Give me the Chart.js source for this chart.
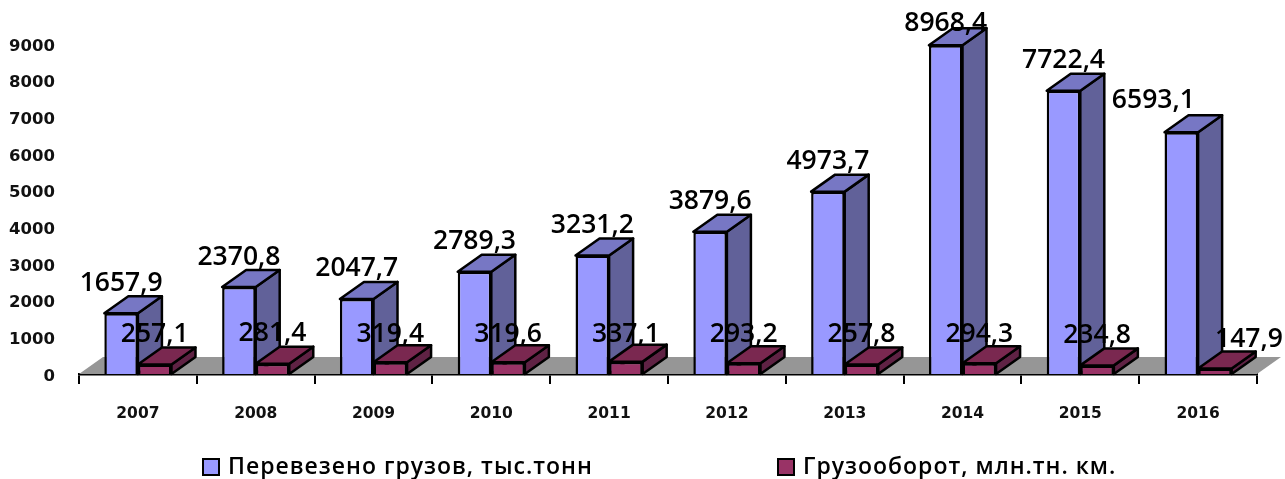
<!DOCTYPE html>
<html>
<head>
<meta charset="utf-8">
<script src="https://cdn.jsdelivr.net/npm/chart.js@4"></script>
<style>
  html, body { margin: 0; background: #fff; }
  #wrap { position: relative; width: 1285px; height: 479px; overflow: hidden; }
  .key { position: absolute; top: 451px; font: 600 23px "Open Sans", sans-serif; letter-spacing: 1px; color: #000; line-height: 28px; white-space: nowrap; }
  .key i { position: absolute; left: -26px; top: 7px; width: 14px; height: 14px; border: 2.5px solid #000; }
</style>
</head>
<body>
<div id="wrap">
  <canvas id="chartFreight" width="1285" height="479"></canvas>
  <div class="key" id="key0" style="left:228px"><i></i></div>
  <div class="key" id="key1" style="left:803px"><i></i></div>
</div>
<script>
const years   = ["2007","2008","2009","2010","2011","2012","2013","2014","2015","2016"];
const cargo   = [1657.9,2370.8,2047.7,2789.3,3231.2,3879.6,4973.7,8968.4,7722.4,6593.1];
const turnover = [257.1,281.4,319.4,319.6,337.1,293.2,257.8,294.3,234.8,147.9];
const seriesNames = ["Перевезено грузов, тыс.тонн", "Грузооборот, млн.тн. км."];

// Colours
const BLUE   = { front: "#9999ff", side: "#616199", top: "#7777c4" };
const MAROON = { front: "#993366", side: "#5f2244", top: "#7a2850" };
const FLOOR  = "#969696";

// 3D look, px
const DX = 24, DY = 17;
const EDGE = 2.5;
const LABEL_LIFT = 30;
// labels moved by hand in the original
const cargoNudge = { 7: [0, 8], 9: [-28, -2] };
const turnoverNudge = { 2: [0, 2], 3: [0, 2], 4: [0, 3], 5: [0, 1], 7: [0, 1], 9: [34, 1] };

function poly(ctx, pts, fill) {
  ctx.beginPath();
  pts.forEach((p, i) => i ? ctx.lineTo(p[0], p[1]) : ctx.moveTo(p[0], p[1]));
  ctx.closePath();
  ctx.fillStyle = fill;
  ctx.fill();
  ctx.stroke();
}

function drawDepth(ctx, meta, tone) {
  ctx.save();
  ctx.strokeStyle = "#000";
  ctx.lineWidth = EDGE;
  ctx.lineJoin = "round";
  meta.data.forEach(bar => {
    const l = bar.x - bar.width / 2, r = bar.x + bar.width / 2;
    poly(ctx, [[r, bar.y], [r + DX, bar.y - DY], [r + DX, bar.base - DY], [r, bar.base]], tone.side);
    poly(ctx, [[l, bar.y], [l + DX, bar.y - DY], [r + DX, bar.y - DY], [r, bar.y]], tone.top);
  });
  ctx.restore();
}

const depthPlugin = {
  id: "depth",
  beforeDatasetsDraw(chart) {
    const { ctx, chartArea: a } = chart;
    const y0 = chart.scales.y.getPixelForValue(0);
    ctx.save();
    ctx.fillStyle = FLOOR;
    ctx.beginPath();
    ctx.moveTo(a.left, y0);
    ctx.lineTo(a.right, y0);
    ctx.lineTo(a.right + DX, y0 - DY);
    ctx.lineTo(a.left + DX, y0 - DY);
    ctx.closePath();
    ctx.fill();
    ctx.restore();
  },
  // chart.js paints dataset 0 last; the blue columns have to go under the maroon ones
  beforeDatasetDraw(chart, args) {
    if (args.index === 0) return false;
    const blue = chart.getDatasetMeta(0);
    drawDepth(chart.ctx, blue, BLUE);
    blue.controller.draw();
    drawDepth(chart.ctx, args.meta, MAROON);
  },
  afterDatasetsDraw(chart) {
    const { ctx } = chart;
    ctx.save();
    ctx.font = '600 26.5px "Open Sans", sans-serif';
    ctx.fillStyle = "#000";
    ctx.textAlign = "center";
    ctx.textBaseline = "middle";
    [[0, cargo, cargoNudge], [1, turnover, turnoverNudge]].forEach(([i, values, nudge]) => {
      chart.getDatasetMeta(i).data.forEach((bar, j) => {
        const n = nudge[j] || [0, 0];
        ctx.fillText(values[j].toFixed(1).replace(".", ","), bar.x + n[0], bar.y - LABEL_LIFT + n[1]);
      });
    });
    ctx.restore();
  }
};

new Chart(document.getElementById("chartFreight"), {
  type: "bar",
  data: {
    labels: years,
    datasets: [
      { label: seriesNames[0], data: cargo, backgroundColor: BLUE.front, borderColor: "#000", borderWidth: EDGE },
      { label: seriesNames[1], data: turnover, backgroundColor: MAROON.front, borderColor: "#000", borderWidth: EDGE },
    ]
  },
  options: {
    responsive: false,
    animation: false,
    layout: { padding: { left: 0, right: 28, top: 44, bottom: 0 } },
    plugins: { legend: { display: false }, tooltip: { enabled: false } },
    datasets: { bar: { categoryPercentage: 0.57, barPercentage: 1 } },
    scales: {
      x: {
        afterFit: s => { s.height = 105; },
        grid: { drawOnChartArea: false, color: "#000", lineWidth: 2, tickLength: 10 },
        border: { color: "#000", width: 2.5 },
        ticks: { padding: 21, color: "#111", maxRotation: 0, font: { family: "DejaVu Sans", size: 15.5, weight: "bold" } }
      },
      y: {
        min: 0, max: 9000,
        afterFit: s => { s.width = 79; },
        grid: { display: false },
        border: { display: false },
        ticks: { stepSize: 1000, padding: 16, labelOffset: 2.5, color: "#111", callback: v => String(v), font: { family: "DejaVu Sans", size: 16.5, weight: "bold" } }
      }
    }
  },
  plugins: [depthPlugin]
});

// legend below the plot, spaced like the original
[[BLUE, "key0"], [MAROON, "key1"]].forEach(([tone, id], i) => {
  const el = document.getElementById(id);
  el.querySelector("i").style.background = tone.front;
  el.appendChild(document.createTextNode(seriesNames[i]));
});
</script>
</body>
</html>
